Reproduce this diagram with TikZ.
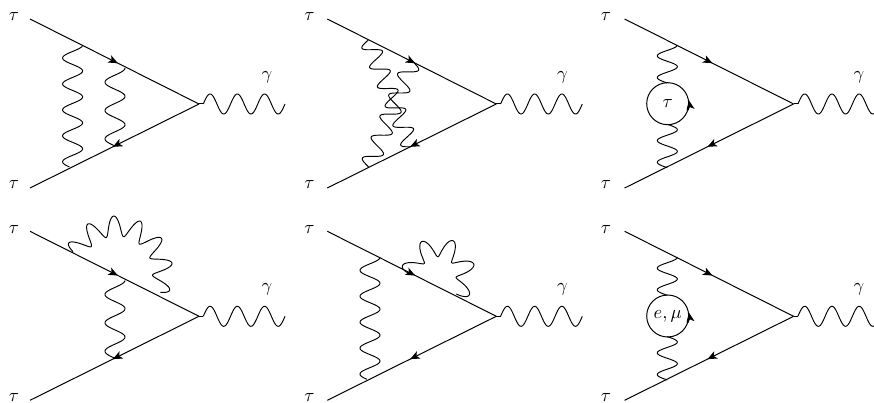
\documentclass[tikz,border=0pt]{standalone}
\usetikzlibrary{arrows.meta,decorations.markings}
\tikzset{
  fermion/.style={line width=1pt,postaction={decorate},decoration={markings,
    mark=at position #1 with {\arrow{Stealth[length=9.5pt,width=8pt,inset=2.5pt]}}}},
  plainline/.style={line width=1pt},
  boson/.style={line width=.95pt,line join=round},
  loopring/.style={circle,draw,line width=1pt,minimum size=42pt,inner sep=0pt},
  looptip/.style={line width=1pt,-{Stealth[length=9.5pt,width=8pt,inset=2.5pt]}},
  lab/.style={inner sep=0pt}
}
\newcommand\lbl[1]{\scalebox{1.85}{$#1$}}
% wavy line: from, to, cycles, amplitude, phase
\newcommand\wavy[5]{%
  \pgfpointanchor{#1}{center}\pgfgetlastxy{\wax}{\way}%
  \pgfpointanchor{#2}{center}\pgfgetlastxy{\wbx}{\wby}%
  \pgfmathsetmacro\wAx{\wax}\pgfmathsetmacro\wAy{\way}%
  \pgfmathsetmacro\wdx{\wbx-\wax}\pgfmathsetmacro\wdy{\wby-\way}%
  \pgfmathsetmacro\wlen{veclen(\wdx,\wdy)}%
  \pgfmathsetmacro\wnx{-\wdy/\wlen}\pgfmathsetmacro\wny{\wdx/\wlen}%
  \draw[boson] plot[variable=\wt,domain=0:1,samples=181]
    ({(\wAx+\wdx*\wt+\wnx*(#4)*sin((#5)+360*(#3)*\wt))*1pt},
     {(\wAy+\wdy*\wt+\wny*(#4)*sin((#5)+360*(#3)*\wt))*1pt});%
}
% loop on a fermion line: centre, radius, amplitude, middle angle, half span, angular period
\newcommand\flower[6]{%
  \pgfpointanchor{#1}{center}\pgfgetlastxy{\wax}{\way}%
  \pgfmathsetmacro\wAx{\wax}\pgfmathsetmacro\wAy{\way}%
  \draw[boson] plot[variable=\wt,domain={(#4)-(#5)}:{(#4)+(#5)},samples=241]
    ({(\wAx+((#2)+(#3)*cos((360/(#6))*(\wt-(#4))))*cos(\wt))*1pt},
     {(\wAy+((#2)+(#3)*cos((360/(#6))*(\wt-(#4))))*sin(\wt))*1pt});%
}
% the triangle of one panel: number, x offset, y offset, x offset of the labels
\newcommand\panel[4]{%
  \coordinate (a#1) at ({30+#2},{19+#3});
  \coordinate (b#1) at ({30+#2},{188+#3});
  \coordinate (v#1) at ({199+#2},{104+#3});
  \coordinate (s#1) at ({203.3+#2},{104+#3});
  \coordinate (g#1) at ({285+#2},{104+#3});
  \draw[fermion=.52] (a#1) -- (v#1);
  \draw[fermion=.51] (v#1) -- (b#1);
  \draw[plainline] (v#1) -- (s#1);
  \wavy{s#1}{g#1}{3}{10}{0}
  \node[lab] (ta#1) at ({14+#4},{17+#3}) {\lbl{\tau}};
  \node[lab] (tb#1) at ({14+#4},{185+#3}) {\lbl{\tau}};
  \node[lab] (gl#1) at ({267+#4},{77+#3}) {\lbl{\gamma}};
}
\begin{document}
\begin{tikzpicture}[x=1pt,y=-1pt]
\clip (0,0) rectangle (874,403);
\useasboundingbox (0,0) rectangle (874,403);
\panel{1}{0}{0}{0}
\panel{2}{297.3}{0}{295.5}
\panel{3}{594.6}{0}{592}
\panel{4}{0}{212.3}{0}
\panel{5}{297.3}{212.3}{295.5}
\panel{6}{594.6}{212.3}{592}

% panel 1: two rungs
\coordinate (p1a) at (72.6,45);  \coordinate (p1b) at (72.6,167);
\coordinate (p1c) at (115,68);   \coordinate (p1d) at (115,146);
\wavy{p1a}{p1b}{4.7}{10}{90}
\wavy{p1c}{p1d}{2.75}{10}{90}

% panel 2: crossed rungs
\coordinate (p2a) at (368.3,40);   \coordinate (p2b) at (411,146.7);
\coordinate (p2c) at (368.5,166.9);\coordinate (p2d) at (412.5,61.3);
\wavy{p2a}{p2b}{5.5}{9}{180}
\wavy{p2c}{p2d}{5}{9}{0}

% panel 3: tau bubble
\node[loopring] (r3) at (667.7,103.7) {\lbl{\tau}};
\coordinate (p3a) at (667.3,45);   \coordinate (p3b) at (667.3,83);
\coordinate (p3c) at (667.3,124.3);\coordinate (p3d) at (667.3,167.7);
\wavy{p3a}{p3b}{1.75}{10}{90}
\wavy{p3c}{p3d}{2}{10}{0}
\draw[looptip] (r3.-18) arc[start angle=-18,end angle=10,radius=21pt];

% panel 4: vertex loop and rung
\coordinate (c4) at (116.7,272);
\flower{c4}{46}{10}{65}{90}{28}
\coordinate (p4c) at (115,280.3);  \coordinate (p4d) at (115,358.3);
\wavy{p4c}{p4d}{2.75}{10}{90}

% panel 5: self-energy loop and rung
\coordinate (c5) at (438.3,274.7);
\flower{c5}{27.5}{9.5}{66.5}{113.5}{50}
\coordinate (p5a) at (370,257.3);  \coordinate (p5b) at (370,379.3);
\wavy{p5a}{p5b}{4.7}{10}{90}

% panel 6: e, mu bubble
\node[loopring] (r6) at (667.7,316) {\lbl{e,\mu}};
\coordinate (p6a) at (667.3,257.3);\coordinate (p6b) at (667.3,295.3);
\coordinate (p6c) at (667.3,336.6);\coordinate (p6d) at (667.3,380);
\wavy{p6a}{p6b}{1.75}{10}{90}
\wavy{p6c}{p6d}{2}{10}{0}
\draw[looptip] (r6.-18) arc[start angle=-18,end angle=10,radius=21pt];
\end{tikzpicture}
\end{document}
